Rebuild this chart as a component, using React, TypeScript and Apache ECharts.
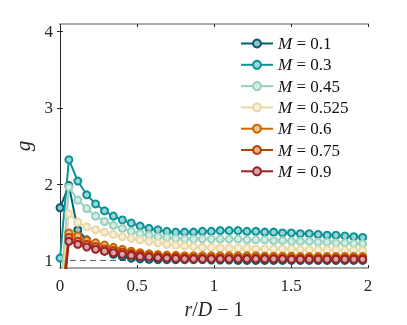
import React, { useEffect, useRef } from "react";
import * as echarts from "echarts";

const DX = 0.0578;
const N = 35;
const xs: number[] = Array.from({ length: N }, (_, i) => +(i * DX).toFixed(4));

const seriesNames = ["M = 0.1", "M = 0.3", "M = 0.45", "M = 0.525", "M = 0.6", "M = 0.75", "M = 0.9"];
const colors = ["#005f73", "#0a9396", "#94d2bd", "#e9d8a6", "#ca6702", "#bb3e03", "#9b2226"];

const gM01 = [1.69, 1.98, 1.40, 1.27, 1.18, 1.12, 1.08, 1.05, 1.03, 1.02, 1.015, 1.01, 1.01, 1.01, 1.01, 1.01, 1.01, 1.005, 1.005, 1.005, 1.0, 1.0, 1.0, 1.0, 1.0, 1.0, 1.0, 1.0, 1.0, 1.0, 1.0, 1.0, 1.0, 1.0, 1.0];
const gM03 = [1.03, 2.32, 2.04, 1.86, 1.74, 1.65, 1.58, 1.53, 1.49, 1.45, 1.42, 1.40, 1.38, 1.37, 1.37, 1.37, 1.38, 1.38, 1.39, 1.39, 1.39, 1.38, 1.38, 1.37, 1.37, 1.36, 1.36, 1.35, 1.35, 1.34, 1.33, 1.33, 1.32, 1.31, 1.30];
const gM045 = [0.5, 1.96, 1.79, 1.68, 1.58, 1.51, 1.46, 1.42, 1.38, 1.35, 1.33, 1.31, 1.30, 1.29, 1.28, 1.28, 1.28, 1.28, 1.28, 1.28, 1.28, 1.27, 1.27, 1.27, 1.26, 1.26, 1.25, 1.25, 1.25, 1.24, 1.24, 1.23, 1.23, 1.22, 1.22];
const gM0525 = [0.4, 1.61, 1.50, 1.44, 1.40, 1.37, 1.34, 1.31, 1.29, 1.27, 1.25, 1.23, 1.21, 1.20, 1.19, 1.18, 1.17, 1.17, 1.16, 1.16, 1.16, 1.16, 1.15, 1.15, 1.15, 1.15, 1.15, 1.14, 1.14, 1.14, 1.14, 1.14, 1.13, 1.13, 1.13];
const gM06 = [0.3, 1.36, 1.32, 1.26, 1.23, 1.20, 1.17, 1.145, 1.12, 1.10, 1.085, 1.075, 1.07, 1.065, 1.06, 1.06, 1.06, 1.06, 1.06, 1.06, 1.06, 1.06, 1.06, 1.055, 1.055, 1.055, 1.055, 1.05, 1.05, 1.05, 1.05, 1.05, 1.05, 1.05, 1.05];
const gM075 = [0.2, 1.30, 1.25, 1.21, 1.18, 1.15, 1.13, 1.11, 1.09, 1.075, 1.06, 1.05, 1.045, 1.04, 1.035, 1.03, 1.03, 1.03, 1.03, 1.03, 1.03, 1.03, 1.03, 1.03, 1.025, 1.025, 1.025, 1.025, 1.025, 1.025, 1.025, 1.025, 1.025, 1.025, 1.025];
const gM09 = [0.1, 1.25, 1.21, 1.175, 1.145, 1.12, 1.10, 1.08, 1.065, 1.05, 1.045, 1.035, 1.03, 1.025, 1.02, 1.02, 1.02, 1.02, 1.02, 1.02, 1.02, 1.02, 1.02, 1.02, 1.02, 1.02, 1.015, 1.015, 1.015, 1.015, 1.015, 1.015, 1.015, 1.015, 1.015];

const allSeries = [gM01, gM03, gM045, gM0525, gM06, gM075, gM09];

const xTicks = [0, 0.5, 1, 1.5, 2];
const yTicks = [1, 2, 3, 4];
const refLine = [[0, 1], [2, 1]];

function lighten(hex: string, t: number) {
  const r = parseInt(hex.slice(1, 3), 16);
  const g = parseInt(hex.slice(3, 5), 16);
  const b = parseInt(hex.slice(5, 7), 16);
  const f = (c: number) => Math.round(c + (255 - c) * t);
  return `rgb(${f(r)},${f(g)},${f(b)})`;
}

const FONT = "'Liberation Serif', 'DejaVu Serif', serif";

export default function App() {
  const ref = useRef<HTMLDivElement>(null);
  useEffect(() => {
    if (!ref.current) return;
    const chart = echarts.init(ref.current, undefined, { renderer: "svg" });
    const axisLabelStyle = { fontFamily: FONT, fontSize: 17, color: "#262626" };
    const option: any = {
      animation: false,
      grid: { left: 60, right: 39, top: 24, bottom: 57 },
      legend: {
        orient: "vertical",
        left: 240,
        top: 35,
        padding: 0,
        itemWidth: 32,
        itemHeight: 10,
        itemGap: 4.3,
        data: seriesNames,
        formatter: (name: string) => `{i|M} = ${name.split("= ")[1]}`,
        textStyle: {
          fontFamily: FONT,
          fontSize: 17,
          color: "#111",
          rich: { i: { fontFamily: FONT, fontSize: 17, fontStyle: "italic", color: "#111" } },
        },
      },
      xAxis: [
        {
          type: "value",
          min: 0,
          max: 2,
          interval: 0.5,
          name: "{i|r}/{i|D} − 1",
          nameLocation: "middle",
          nameGap: 30,
          nameTextStyle: {
            fontFamily: FONT,
            fontSize: 20,
            color: "#262626",
            rich: { i: { fontFamily: FONT, fontSize: 20, fontStyle: "italic", color: "#262626" } },
          },
          axisLine: { show: true, lineStyle: { color: "#888", width: 1.5 } },
          axisTick: { show: true, inside: true, length: 3, lineStyle: { color: "#262626" } },
          axisLabel: { ...axisLabelStyle, margin: 9, formatter: (v: number) => String(v), customValues: xTicks },
          splitLine: { show: false },
        },
        {
          type: "value",
          position: "top",
          min: 0,
          max: 2,
          interval: 0.5,
          axisLine: { show: true, lineStyle: { color: "#aaa", width: 2 } },
          axisTick: { show: true, inside: true, length: 3, lineStyle: { color: "#262626" } },
          axisLabel: { show: false },
          splitLine: { show: false },
        },
      ],
      yAxis: [
        {
          type: "value",
          min: 0.9,
          max: 4.1,
          name: "g",
          nameLocation: "middle",
          nameGap: 22,
          nameRotate: 90,
          nameTextStyle: { fontFamily: FONT, fontSize: 21, fontStyle: "italic", color: "#262626" },
          axisLine: { show: true, lineStyle: { color: "#262626", width: 1 } },
          axisTick: { show: true, inside: true, length: 3, customValues: yTicks, lineStyle: { color: "#262626" } },
          axisLabel: { ...axisLabelStyle, margin: 7, customValues: yTicks, formatter: (v: number) => String(v) },
          splitLine: { show: false },
        },
        {
          type: "value",
          position: "right",
          min: 0.9,
          max: 4.1,
          axisLine: { show: true, lineStyle: { color: "#262626", width: 1 } },
          axisTick: { show: true, inside: true, length: 3, customValues: yTicks, lineStyle: { color: "#262626" } },
          axisLabel: { show: false, customValues: yTicks },
          splitLine: { show: false },
        },
      ],
      series: [
        {
          type: "line",
          name: "ref",
          data: refLine,
          symbol: "none",
          silent: true,
          lineStyle: { color: "#555", width: 1, type: [6, 4] },
          z: 1,
        },
        ...allSeries.map((vals, k) => ({
          type: "line",
          name: seriesNames[k],
          data: vals.map((v, i) => [xs[i], v]),
          symbol: "circle",
          symbolSize: 7,
          showSymbol: true,
          clip: true,
          lineStyle: { color: colors[k], width: 2 },
          itemStyle: { color: lighten(colors[k], 0.6), borderColor: colors[k], borderWidth: 2 },
          z: 2 + k,
        })),
      ],
    };
    chart.setOption(option);
    return () => chart.dispose();
  }, []);
  return <div ref={ref} style={{ position: "fixed", left: 0, top: 0, width: 407, height: 325 }} />;
}
